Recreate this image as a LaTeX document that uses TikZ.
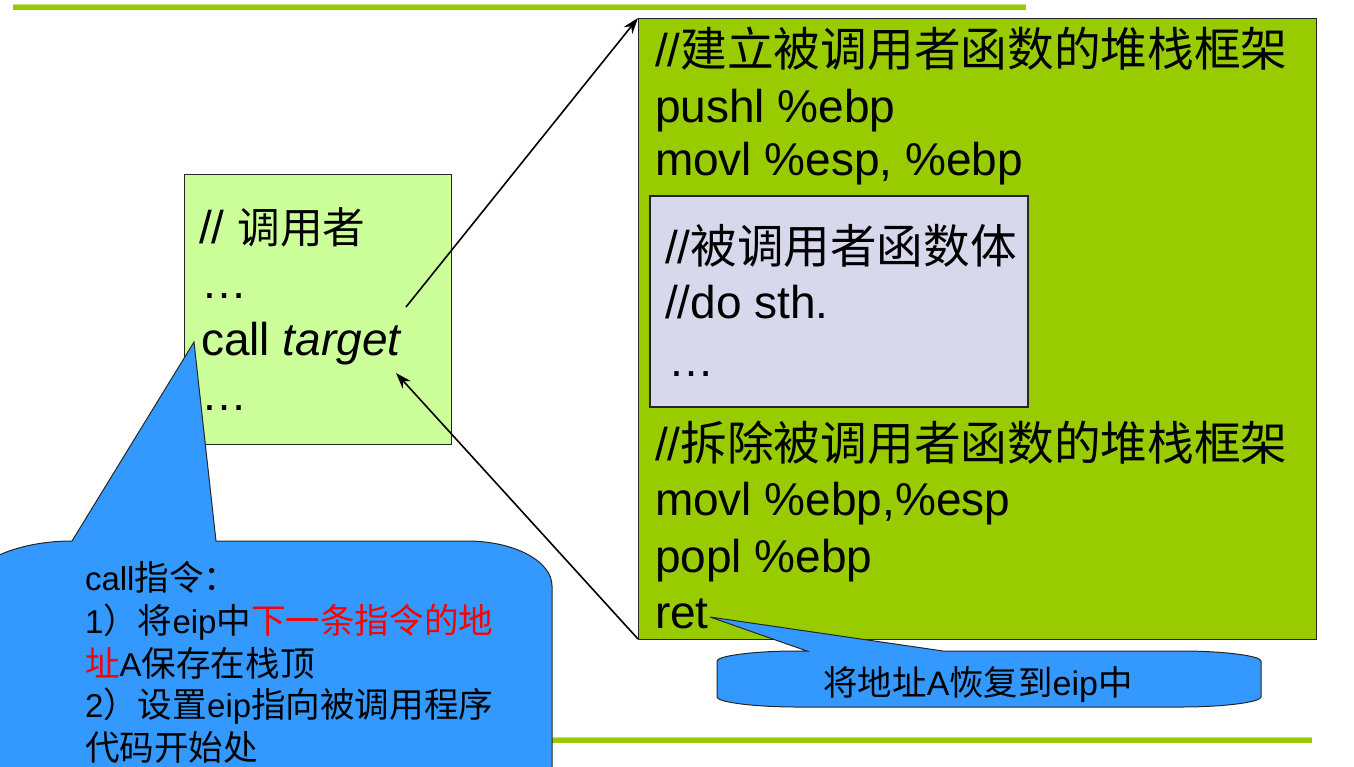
\documentclass[tikz,border=0pt]{standalone}
\usepackage{fontspec}
\setmainfont{Liberation Sans}
\newfontfamily\cjk{Noto Sans CJK SC}
\usetikzlibrary{arrows.meta}
\newcommand\zh[2]{{\fontsize{#1}{#1}\cjk #2}}
\definecolor{barGreen}{HTML}{99CC00}
\definecolor{barLight}{HTML}{C8E27A}
\definecolor{calleeGreen}{HTML}{99CC00}
\definecolor{callerGreen}{HTML}{CCFF99}
\definecolor{bodyLilac}{HTML}{D8D8EC}
\definecolor{calloutBlue}{HTML}{3399FF}
\definecolor{edgeGray}{HTML}{262626}
\begin{document}
\begin{tikzpicture}[x=1pt,y=-1pt,
  txt/.style={anchor=base west, inner sep=0pt, outer sep=0pt},
  big/.style={font=\fontsize{46}{46}\selectfont},
  small/.style={font=\fontsize{33}{33}\selectfont},
  box/.style={draw=edgeGray, line width=1pt, anchor=north west, inner sep=0pt, outer sep=0pt},
  conn/.style={line width=1.6pt, -{Stealth[length=16pt,width=11pt]}},
  callout/.style={draw=edgeGray, line width=1pt, fill=calloutBlue, line join=miter}
]
\useasboundingbox (0,0) rectangle (1354,766);
\clip (0,0) rectangle (1354,766);

% decorative bars
\draw[barGreen, line width=6pt] (13,7) -- (1026,7);
\draw[barLight, line width=1.5pt] (13,4.5) -- (1026,4.5);
\draw[barGreen, line width=6pt] (500,740) -- (1312,740);
\draw[barLight, line width=1.5pt] (500,737.5) -- (1312,737.5);

% boxes
\node[box, fill=callerGreen, minimum width=267pt, minimum height=270pt] (caller) at (184,174) {};
\node[box, fill=calleeGreen, minimum width=678pt, minimum height=621pt] (callee) at (638,18) {};
\node[box, fill=bodyLilac, line width=1.2pt, minimum width=378pt, minimum height=211pt] (body) at (650,196) {};

% caller text
\node[txt, big] (l1) at (199,243) {// \zh{42.7}{调用者}};
\node[txt, big] (l2) at (201,298) {…};
\node[txt, big] (l3) at (201,355) {call \textit{target}};
\node[txt, big] (l4) at (201,410) {…};

% callee text
\node[txt, big] (r1) at (655,66) {//\zh{46.7}{建立被调用者函数的堆栈框架}};
\node[txt, big] (r2) at (655,122) {pushl \%ebp};
\node[txt, big] (r3) at (655,175) {movl \%esp, \%ebp};
\node[txt, big] (b1) at (665,263) {//\zh{46.6}{被调用者函数体}};
\node[txt, big] (b2) at (665,318) {//do sth.};
\node[txt, big] (b3) at (668,376) {…};
\node[txt, big] (r4) at (655,460) {//\zh{46.7}{拆除被调用者函数的堆栈框架}};
\node[txt, big] (r5) at (655,515) {movl \%ebp,\%esp};
\node[txt, big] (r6) at (655,572) {popl \%ebp};
\node[txt, big] (r7) at (655,628) {ret};

% connectors
\coordinate (callsite) at (406,307);
\coordinate (retpoint) at (396,373);
\draw[conn] (callsite) -- (callee.north west);
\draw[conn] (callee.south west) -- (retpoint);

% big callout
\coordinate (calltip) at (194,342);
\draw[callout] (72,541) -- (calltip) -- (216,541) -- (467,541)
  .. controls (514,541) and (552,561) .. (552,586)
  -- (552,820) -- (-40,820) -- (-40,600)
  .. controls (-40,567) and (10,541) .. (72,541) -- cycle;
\node[txt, small] (c1) at (85,590) {call\zh{34.6}{指令：}};
\node[txt, small] (c2) at (85,633) {1\zh{34.6}{）将}eip\zh{34.6}{中}\textcolor{red}{\zh{34.6}{下一条指令的地}}};
\node[txt, small] (c3) at (85,676) {\textcolor{red}{\zh{34.6}{址}}A\zh{34.6}{保存在栈顶}};
\node[txt, small] (c4) at (85,717) {2\zh{34.6}{）设置}eip\zh{34.6}{指向被调用程序}};
\node[txt, small] (c5) at (85,760) {\zh{34.6}{代码开始处}};

% ret callout
\coordinate (rettip) at (710,617);
\draw[callout] (807,651) -- (rettip) -- (943,651) -- (1181,651)
  .. controls (1225,651) and (1261,656) .. (1261,661)
  -- (1261,697)
  .. controls (1261,702) and (1225,707) .. (1181,707)
  -- (797,707)
  .. controls (753,707) and (717,702) .. (717,697)
  -- (717,661)
  .. controls (717,656) and (753,651) .. (797,651) -- cycle;
\node[anchor=base, inner sep=0pt, font=\fontsize{34}{34}\selectfont] (rt) at (978,695)
  {\zh{34.4}{将地址}A\zh{34.4}{恢复到}eip\zh{34.4}{中}};
\end{tikzpicture}
\end{document}
